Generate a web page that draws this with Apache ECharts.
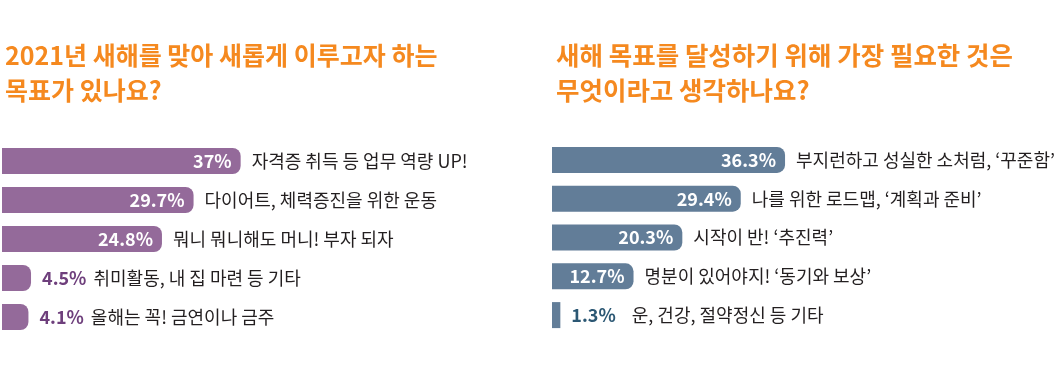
<!DOCTYPE html>
<html>
<head>
<meta charset="utf-8">
<script src="https://cdn.jsdelivr.net/npm/echarts@6/dist/echarts.min.js"></script>
<style>
html, body { margin: 0; padding: 0; background: #ffffff; }
#main { width: 1060px; height: 376px; }
</style>
</head>
<body>
<div id="main"></div>
<script>
// 왼쪽: 새해 목표
var leftTitle = '2021년 새해를 맞아 새롭게 이루고자 하는\n목표가 있나요?';
var leftNames = ['자격증 취득 등 업무 역량 UP!', '다이어트, 체력증진을 위한 운동', '뭐니 뭐니해도 머니! 부자 되자', '취미활동, 내 집 마련 등 기타', '올해는 꼭! 금연이나 금주'];
var leftValues = [37, 29.7, 24.8, 4.5, 4.1];

// 오른쪽: 목표 달성에 필요한 것
var rightTitle = '새해 목표를 달성하기 위해 가장 필요한 것은\n무엇이라고 생각하나요?';
var rightNames = ['부지런하고 성실한 소처럼, ‘꾸준함’', '나를 위한 로드맵, ‘계획과 준비’', '시작이 반! ‘추진력’', '명분이 있어야지! ‘동기와 보상’', '운, 건강, 절약정신 등 기타'];
var rightValues = [36.3, 29.4, 20.3, 12.7, 1.3];

var FONT = '"Noto Sans CJK KR", "Noto Sans", sans-serif';
var chart = echarts.init(document.getElementById('main'));

function pct(v) { return v + '%'; }

// 막대 + 안쪽 퍼센트 라벨, 투명 막대 + 바깥 텍스트 라벨
function makeSeries(idx, values, names, barColor, pctColor, minInside, gap) {
    var barData = values.map(function (v) {
        // 아주 얇은 막대는 모서리 둥글림 없음
        return v < 2 ? { value: v, itemStyle: { borderRadius: 0 } } : v;
    });
    return [{
        type: 'bar',
        xAxisIndex: idx, yAxisIndex: idx,
        data: barData,
        barWidth: 26,
        itemStyle: { color: barColor, borderRadius: [0, 8, 8, 0] },
        label: {
            show: true,
            position: 'insideRight',
            distance: 9,
            fontFamily: FONT, fontSize: 18, fontWeight: 'bold', color: '#ffffff',
            formatter: function (p) { return p.value >= minInside ? pct(p.value) : ''; }
        },
        silent: true
    }, {
        type: 'bar',
        xAxisIndex: idx, yAxisIndex: idx,
        data: values,
        barWidth: 26,
        barGap: '-100%',
        itemStyle: { color: 'rgba(0,0,0,0)' },
        label: {
            show: true,
            position: 'right',
            distance: 11,
            formatter: function (p) {
                var n = names[p.dataIndex];
                return p.value >= minInside ? '{t|' + n + '}' : '{p|' + pct(p.value) + '}{t|' + n + '}';
            },
            rich: {
                p: { fontFamily: FONT, fontSize: 18, fontWeight: 'bold', color: pctColor, padding: [0, gap, 0, 0] },
                t: { fontFamily: FONT, fontSize: 18, color: '#231f20' }
            }
        },
        silent: true
    }];
}

option = {
    backgroundColor: '#ffffff',
    animation: false,
    title: [{
        text: leftTitle, left: 0, top: 33,
        textStyle: { fontFamily: FONT, fontSize: 25, fontWeight: 'bold', color: '#f5891f', lineHeight: 35 }
    }, {
        text: rightTitle, left: 551, top: 33,
        textStyle: { fontFamily: FONT, fontSize: 25.5, fontWeight: 'bold', color: '#f5891f', lineHeight: 35 }
    }],
    grid: [
        { left: 2, top: 141.5, width: 322.5, height: 195 },
        { left: 552, top: 140.5, width: 321, height: 194 }
    ],
    xAxis: [
        { gridIndex: 0, type: 'value', min: 0, max: 50, show: false },
        { gridIndex: 1, type: 'value', min: 0, max: 50, show: false }
    ],
    yAxis: [
        { gridIndex: 0, type: 'category', data: leftNames, inverse: true, show: false },
        { gridIndex: 1, type: 'category', data: rightNames, inverse: true, show: false }
    ],
    series: makeSeries(0, leftValues, leftNames, '#946a9a', '#6e3f7c', 10, 7)
        .concat(makeSeries(1, rightValues, rightNames, '#627d98', '#2c5874', 10, 16))
};
chart.setOption(option);
</script>
</body>
</html>
